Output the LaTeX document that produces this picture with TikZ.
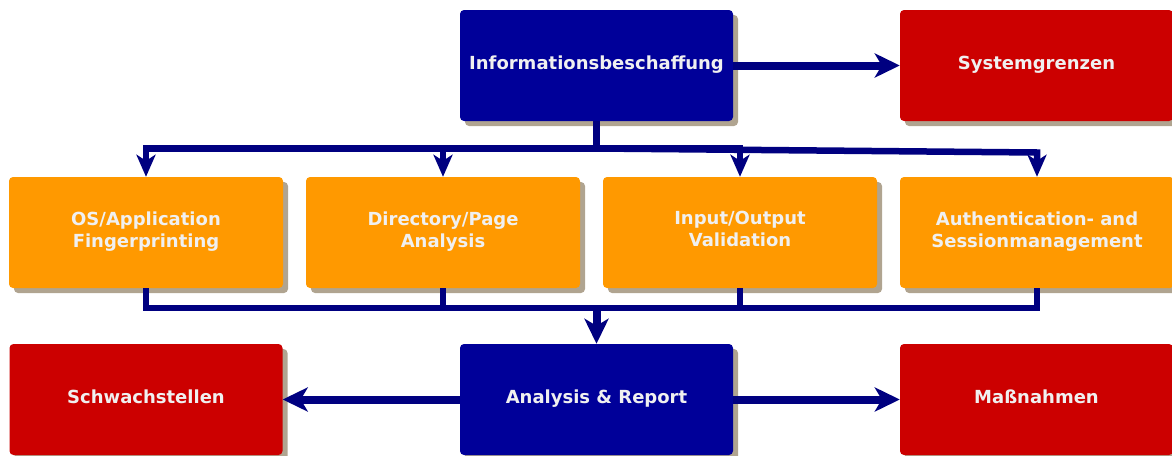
\documentclass[tikz,border=0pt]{standalone}
\usepackage{fontspec}
\setmainfont{DejaVu Sans}
\usetikzlibrary{arrows.meta,shadows}
\definecolor{boxblue}{RGB}{0,0,153}
\definecolor{boxred}{RGB}{204,0,0}
\definecolor{boxorange}{RGB}{255,153,0}
\definecolor{shadowc}{RGB}{176,164,144}
\definecolor{linec}{RGB}{0,0,128}
\definecolor{txtc}{RGB}{240,240,240}
\tikzset{
  basebox/.style={rectangle, rounded corners=4pt, minimum width=273pt, minimum height=111pt,
    inner sep=0pt, align=center, text=txtc,
    font=\fontsize{18}{22}\selectfont\bfseries,
    execute at begin node=\strut, execute at end node=\strut,
    drop shadow={shadow xshift=5pt, shadow yshift=-5pt, fill=shadowc, opacity=1}},
  bluebox/.style={basebox, fill=boxblue},
  redbox/.style={basebox, fill=boxred},
  orangebox/.style={basebox, fill=boxorange, minimum width=274pt},
  thickconn/.style={draw=linec, line width=8pt, -{Stealth[length=25pt,width=24pt,inset=7pt]}},
  thinconn/.style={draw=linec, line width=6.5pt, -{Stealth[length=22pt,width=19pt,inset=6pt]}},
  plainconn/.style={draw=linec, line width=6.5pt},
}
\begin{document}
\begin{tikzpicture}[x=1pt,y=-1pt]
\useasboundingbox (0,0) rectangle (1172,455);
\node[bluebox] (info) at (596.5,65.5) {Informationsbeschaffung};
\node[redbox] (sys) at (1036.5,65.5) {Systemgrenzen};
\node[orangebox] (os) at (146,232.5) {OS/Application\\Fingerprinting};
\node[orangebox] (dir) at (443,232.5) {Directory/Page\\Analysis};
\node[orangebox] (io) at (740,232.5) {Input/Output\\Validation};
\node[orangebox] (auth) at (1037,232.5) {Authentication- and\\Sessionmanagement};
\node[redbox] (schw) at (146,399.5) {Schwachstellen};
\node[bluebox] (ana) at (596.5,399.5) {Analysis \& Report};
\node[redbox] (mass) at (1036.5,399.5) {Maßnahmen};
\coordinate (split) at (596.5,148.5);
\coordinate (bend) at (1037,152.5);
\coordinate (merge) at (596.5,308);
\draw[thickconn] (info.east) -- (sys.west);
\draw[thinconn] (info.south) -- (split) -| (os.north);
\draw[thinconn] (info.south) -- (split) -| (dir.north);
\draw[thinconn] (info.south) -- (split) -| (io.north);
\draw[thinconn] (info.south) -- (split) -- (bend) -- (auth.north);
\draw[plainconn] (os.south) |- (merge);
\draw[plainconn] (dir.south) |- (merge);
\draw[plainconn] (io.south) |- (merge);
\draw[plainconn] (auth.south) |- (merge);
\draw[thickconn] (merge) -- (ana.north);
\draw[thickconn] (ana.west) -- (schw.east);
\draw[thickconn] (ana.east) -- (mass.west);
\end{tikzpicture}
\end{document}
